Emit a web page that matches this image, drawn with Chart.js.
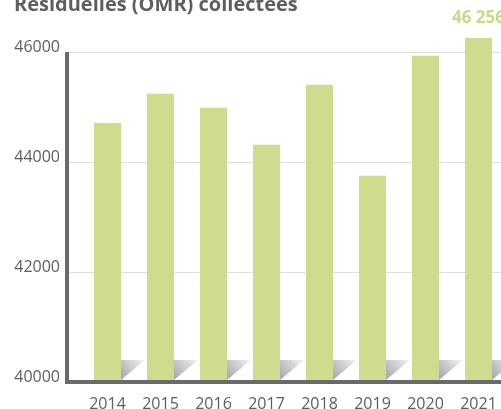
<!DOCTYPE html>
<html>
<head>
<meta charset="utf-8">
<script src="https://cdn.jsdelivr.net/npm/chart.js@4.4.1/dist/chart.umd.min.js"></script>
<style>
    html, body { margin: 0; padding: 0; background: #fff; overflow: hidden; width: 501px; height: 409px; }
    #wrap { position: absolute; left: 0; top: -20px; width: 520px; height: 429px; }
</style>
</head>
<body>
<div id="wrap"><canvas id="myChart" width="520" height="429"></canvas></div>
<script>
const chartTitle = 'Résiduelles (OMR) collectées';
const years = ['2014', '2015', '2016', '2017', '2018', '2019', '2020', '2021'];
const residuals = [44709, 45242, 44987, 44315, 45405, 43751, 45933, 46256];
const yTicks = [40000, 42000, 44000, 46000];
const labelledYears = ['2021'];

const barColor = '#cfdc8d';
const labelColor = '#c9d985';
const axisColor = '#6a6a6a';
const textColor = '#5e5e5e';

function frNumber(v) {
    return String(v).replace(/\B(?=(\d{3})+(?!\d))/g, ' ');
}

// grey wedge behind each bar foot, and the thick L-shaped axes
const decorPlugin = {
    id: 'decor',
    beforeDatasetsDraw(chart) {
        const ctx = chart.ctx;
        const area = chart.chartArea;
        const meta = chart.getDatasetMeta(0);
        const foot = area.bottom - 2;
        meta.data.forEach((bar) => {
            const x0 = bar.x + bar.width / 2;
            const g = ctx.createLinearGradient(x0, foot, x0 + 24, foot - 20);
            g.addColorStop(0, '#a4a4aa');
            g.addColorStop(1, '#f4f4f4');
            ctx.save();
            ctx.fillStyle = g;
            ctx.beginPath();
            ctx.moveTo(x0, foot);
            ctx.lineTo(x0, foot - 20);
            ctx.lineTo(x0 + 24, foot - 20);
            ctx.closePath();
            ctx.fill();
            ctx.restore();
        });
    },
    afterDatasetsDraw(chart) {
        const ctx = chart.ctx;
        const area = chart.chartArea;
        const y = chart.scales.y;
        const top = y.getPixelForValue(yTicks[yTicks.length - 1]);
        const axisX = area.left - 16;
        ctx.save();
        ctx.fillStyle = axisColor;
        ctx.fillRect(axisX, top, 4, area.bottom + 2 - top);
        ctx.fillRect(axisX, area.bottom - 2, chart.width - axisX, 4);

        // value label above the highlighted bar
        const meta = chart.getDatasetMeta(0);
        ctx.fillStyle = labelColor;
        ctx.font = 'bold 17px "Open Sans"';
        ctx.textAlign = 'center';
        ctx.textBaseline = 'middle';
        meta.data.forEach((bar, i) => {
            if (labelledYears.includes(years[i])) {
                ctx.fillText(frNumber(residuals[i]), bar.x, bar.y - 20);
            }
        });
        ctx.restore();
    }
};

const ctx = document.getElementById('myChart');

new Chart(ctx, {
    type: 'bar',
    data: {
        labels: years,
        datasets: [{
            data: residuals,
            backgroundColor: barColor,
            borderWidth: 0,
            categoryPercentage: 1,
            barPercentage: 27 / 53,
            base: yTicks[0],
            clip: { left: 0, top: false, right: false, bottom: 0 }
        }]
    },
    options: {
        responsive: false,
        animation: false,
        events: [],
        layout: {
            padding: { left: 14, right: 15, top: 0, bottom: 0 }
        },
        plugins: {
            legend: { display: false },
            tooltip: { enabled: false },
            title: {
                display: true,
                text: chartTitle,
                align: 'start',
                color: textColor,
                font: { family: '"Open Sans"', size: 20, weight: 'bold', lineHeight: 1.2 },
                padding: { top: 13.5, bottom: 34.5 }
            }
        },
        scales: {
            x: {
                grid: { display: false },
                border: { display: false },
                ticks: {
                    color: textColor,
                    padding: 5,
                    font: { family: '"Open Sans"', size: 16 }
                },
                afterFit(scale) { scale.height = 27; }
            },
            y: {
                min: 40000,
                max: 46000,
                afterBuildTicks(scale) {
                    scale.ticks = yTicks.map((v) => ({ value: v }));
                },
                grid: {
                    color: '#dedede',
                    lineWidth: 1,
                    drawTicks: true,
                    tickLength: 14
                },
                border: { display: false },
                ticks: {
                    color: textColor,
                    padding: 7,
                    labelOffset: -5,
                    font: { family: '"Open Sans"', size: 16 },
                    callback: (v) => String(v)
                },
                afterFit(scale) { scale.width = 67; }
            }
        }
    },
    plugins: [decorPlugin]
});
</script>
</body>
</html>
